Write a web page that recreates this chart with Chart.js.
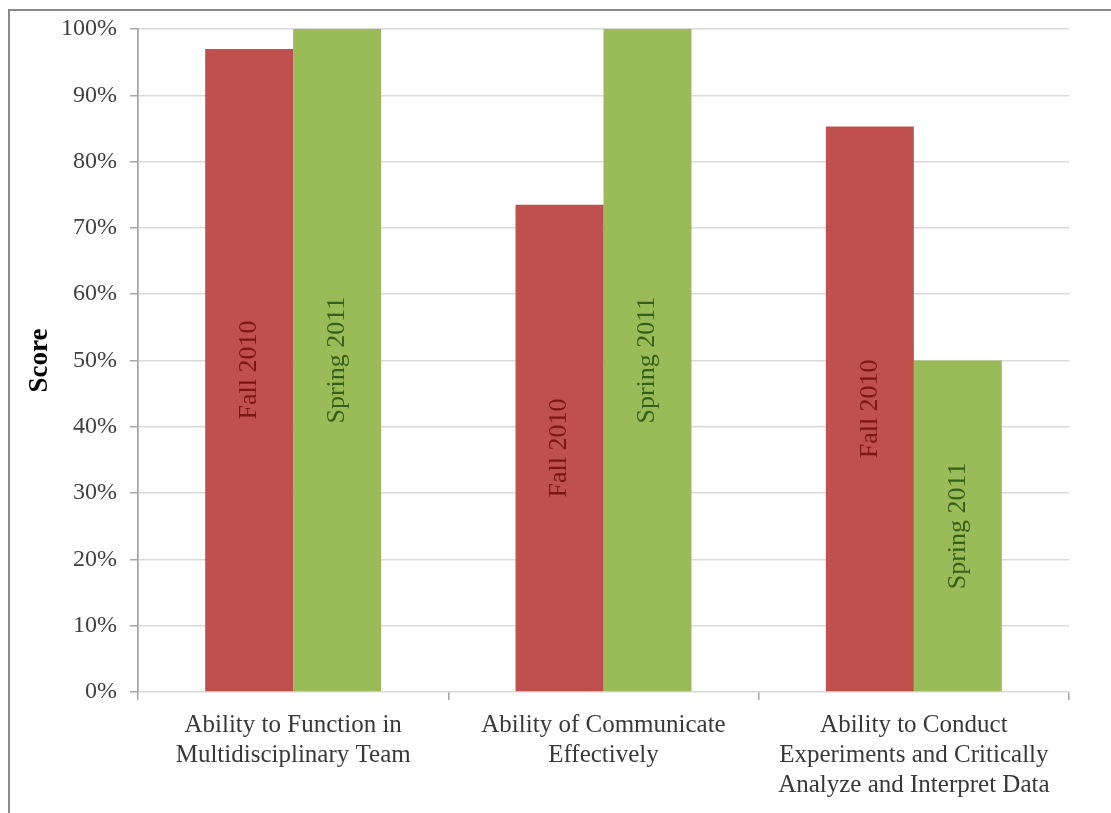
<!DOCTYPE html>
<html>
<head>
<meta charset="utf-8">
<script src="https://cdn.jsdelivr.net/npm/chart.js@4"></script>
<style>
  html, body { margin: 0; padding: 0; background: #fff; }
  #wrap { position: absolute; left: 0; top: 0; width: 1111px; height: 813px; }
  #frame { position: absolute; left: 8px; top: 9px; width: 1103px; height: 804px;
           border-left: 2px solid #8a8a8a; border-top: 2px solid #8a8a8a; box-sizing: border-box; }
</style>
</head>
<body>
<div id="wrap">
  <div id="frame"></div>
  <canvas id="scores" width="1111" height="813"></canvas>
</div>
<script>
var categories = [
  ["Ability to Function in", "Multidisciplinary Team"],
  ["Ability of Communicate", "Effectively"],
  ["Ability to Conduct", "Experiments and Critically", "Analyze and Interpret Data"]
];
var fall2010 = [97, 73.5, 85.3];
var spring2011 = [100, 100, 50];
var seriesNames = ["Fall 2010", "Spring 2011"];

// draws the series name rotated inside each bar
var barText = {
  id: 'barText',
  afterDatasetsDraw: function(chart) {
    var ctx = chart.ctx;
    var textColors = ['#7a1614', '#35601a'];
    chart.data.datasets.forEach(function(ds, i) {
      var meta = chart.getDatasetMeta(i);
      meta.data.forEach(function(bar) {
        var mid = (bar.y + bar.base) / 2;
        ctx.save();
        ctx.translate(bar.x, mid);
        ctx.rotate(-Math.PI / 2);
        ctx.font = '26px "Liberation Serif", serif';
        ctx.fillStyle = textColors[i];
        ctx.textAlign = 'center';
        ctx.textBaseline = 'middle';
        ctx.fillText(ds.label, 0, 0);
        ctx.restore();
      });
    });
  }
};

var ctx = document.getElementById("scores");
var chart = new Chart(ctx, {
  type: 'bar',
  data: {
    labels: categories,
    datasets: [
      {
        label: seriesNames[0],
        data: fall2010,
        backgroundColor: '#c0504d',
        categoryPercentage: 0.567,
        barPercentage: 1
      },
      {
        label: seriesNames[1],
        data: spring2011,
        backgroundColor: '#9bbb59',
        categoryPercentage: 0.567,
        barPercentage: 1
      }
    ]
  },
  options: {
    responsive: false,
    animation: false,
    layout: { padding: { top: 29, right: 42, left: 0, bottom: 0 } },
    plugins: {
      legend: { display: false },
      tooltip: { enabled: false }
    },
    scales: {
      x: {
        afterFit: function(axis) { axis.height = 121; },
        grid: {
          offset: true,
          drawOnChartArea: true,
          color: function(c) { return (c.index === 0 || c.index === 3) ? '#a6a6a6' : 'rgba(0,0,0,0)'; },
          tickColor: '#a6a6a6',
          tickLength: 8,
          lineWidth: 1.5
        },
        border: { display: false },
        ticks: {
          color: '#383838',
          font: { family: '"Liberation Serif", serif', size: 25, lineHeight: '30px' },
          padding: 10,
          maxRotation: 0,
          autoSkip: false
        }
      },
      y: {
        min: 0,
        max: 100,
        afterFit: function(axis) { axis.width = 138; },
        grid: {
          color: '#d9d9d9',
          tickColor: '#a6a6a6',
          tickLength: 8,
          lineWidth: 1.5
        },
        border: { color: '#a6a6a6', width: 1.5 },
        ticks: {
          stepSize: 10,
          color: '#404040',
          padding: 13,
          font: { family: '"Liberation Serif", serif', size: 24 },
          callback: function(v) { return v + '%'; }
        },
        title: {
          display: true,
          text: 'Score',
          color: '#000',
          font: { family: '"Liberation Serif", serif', size: 27, weight: 'bold' },
          padding: { top: 24, bottom: 0 }
        }
      }
    }
  },
  plugins: [barText]
});
</script>
</body>
</html>
